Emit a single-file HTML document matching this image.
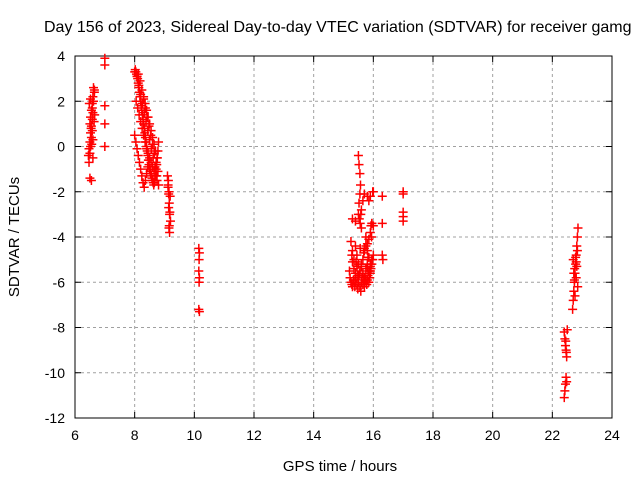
<!DOCTYPE html>
<html><head><meta charset="utf-8"><style>
html,body{margin:0;padding:0;background:#fff;}
svg{display:block;font-family:"Liberation Sans",sans-serif;}
</style></head><body>
<svg id="chart" width="640" height="480">
<text x="44" y="32" font-size="16" text-anchor="start">Day 156 of 2023, Sidereal Day-to-day VTEC variation (SDTVAR) for receiver gamg</text>
<text x="340" y="471" font-size="15" text-anchor="middle">GPS time / hours</text>
<text transform="translate(19,237) rotate(-90)" font-size="15" text-anchor="middle">SDTVAR / TECUs</text>
<g id="grid"></g><g id="axes"></g><g id="points"></g>
</svg>
<script>
const xTicks=[6,8,10,12,14,16,18,20,22,24];
const yTicks=[4,2,0,-2,-4,-6,-8,-10,-12];
const times=[6.45,6.47,6.5,6.52,6.55,6.58,6.6,6.62,6.65,6.5,6.52,6.55,6.58,6.6,6.62,6.65,6.47,6.5,6.52,6.55,6.58,6.6,6.48,6.52,6.55,6.5,6.56,6.6,6.64,6.66,6.54,6.58,
7,7,7,7,7,
8,8.02,8.04,8.06,8.08,8.1,8.12,8.14,8.16,8.18,8.2,8.22,8.24,8.26,8.28,8.3,8.32,8.34,8.36,8.38,8.4,8.42,8.44,8.46,8.48,8.5,8.52,8.54,8.56,8.58,8.6,8.62,8.64,8.66,8.68,8.7,8.72,8.74,8.76,8.78,8.8,
8.05,8.1,8.15,8.2,8.25,8.3,8.35,8.4,8.45,8.5,8.55,8.6,8.65,8.7,8.75,8.8,
8,8.04,8.08,8.12,8.16,8.2,8.24,8.28,8.32,8.36,8.4,8.44,8.48,
8.3,8.35,8.4,8.45,8.5,8.55,8.6,8.65,8.7,8.75,
8.12,8.18,8.24,8.3,8.36,8.42,8.48,8.54,8.6,8.66,8.72,8.78,
8.08,8.14,8.2,8.26,8.32,8.38,8.44,8.5,8.56,8.62,8.68,8.74,
9.1,9.12,9.14,9.16,9.18,9.2,9.15,9.17,9.19,9.13,9.15,9.17,9.12,9.14,9.16,
10.15,10.17,10.15,10.17,10.16,10.15,10.17,10.16,
15.2,15.22,15.25,15.28,15.3,15.33,15.35,15.38,15.4,15.42,15.45,15.48,15.5,15.52,15.55,15.58,15.6,15.62,15.65,15.68,15.7,15.72,15.75,15.78,15.8,15.82,15.85,15.88,15.9,15.92,15.95,15.98,16,
15.25,15.3,15.35,15.4,15.45,15.5,15.55,15.6,15.65,15.7,15.75,15.8,15.85,15.9,15.95,
15.3,15.35,15.4,15.45,15.5,15.55,15.6,15.65,15.7,15.75,15.8,15.85,15.9,
15.28,15.34,15.42,15.48,15.56,15.62,15.68,15.74,15.82,15.88,15.94,
15.5,15.52,15.55,15.57,15.55,15.52,15.5,15.53,15.56,15.58,15.6,15.65,15.7,15.75,15.8,15.85,15.9,15.92,15.95,15.98,16,
15.8,15.85,15.9,15.95,16,15.3,15.4,15.6,15.7,15.8,15.9,
16.3,16.3,16.32,16.3,17,17,17,17,17,
22.4,22.42,22.44,22.46,22.48,22.5,22.4,22.42,22.44,22.46,22.48,22.45,22.47,
22.68,22.7,22.72,22.74,22.76,22.78,22.8,22.82,22.84,22.86,22.7,22.75,22.8,22.85,22.72,22.78,22.82,22.74,22.8,22.76,22.84];
const values=[-0.4,-0.1,0.2,0.6,0.9,1.2,1.5,2,2.5,1,1.3,1.6,1.9,2.2,2.6,2.4,-0.7,-0.3,0,0.4,0.7,-0.5,1.9,2.1,-1.5,-1.4,0.1,0.3,1.1,1.4,0.8,1.7,
3.9,3.6,1.8,1,0,
3.3,3.4,3.3,3.2,3.1,3,2.8,2.6,2.4,2.2,2,1.8,1.6,1.4,1.2,1,0.8,0.6,0.4,0.2,0,-0.2,-0.4,-0.6,-0.8,-1,-1.1,-1.2,-1.3,-1.4,-1.5,-1.6,-1.7,-1.6,-1.5,-1.3,-1,-0.8,-0.5,-0.2,0.2,
2,1.7,1.4,1.1,0.8,0.5,0.2,-0.1,-0.3,-0.5,-0.7,-0.9,-1.1,-1.3,-1.5,-1.7,
0.5,0.2,-0.1,-0.4,-0.7,-1,-1.3,-1.6,-1.8,-1.5,-1.2,-0.9,-0.6,
2.2,1.9,1.6,1.3,1,0.7,0.4,0.1,-0.2,-0.5,
3.2,2.9,2.5,2.1,1.7,1.3,0.9,0.5,0.1,-0.3,-0.7,-1.1,
3.1,2.7,2.3,1.9,1.5,1.1,0.7,0.3,-0.1,-0.5,-0.9,-1.3,
-1.3,-1.7,-2.1,-2.5,-2.9,-3.3,-3.6,-3.8,-2.2,-1.5,-2,-3,-1.8,-2.7,-3.5,
-4.5,-4.7,-5.5,-5.8,-6,-7.2,-7.3,-5,
-5.5,-5.8,-6,-6.1,-6.2,-5.9,-6,-6.2,-6,-5.8,-6.1,-6.3,-6,-5.7,-6.2,-6.4,-6,-5.8,-6.1,-5.9,-6.2,-6,-5.8,-6.1,-5.9,-5.7,-6,-5.5,-5.6,-5.4,-5.2,-5,-4.8,
-4.2,-4.6,-5,-4.4,-4.8,-5.2,-5.6,-5.3,-5.0,-4.6,-4.4,-4.6,-4.9,-5.2,-5.0,
-5.1,-5.4,-5.6,-5.3,-5.7,-5.5,-5.2,-5.6,-5.8,-5.4,-5.2,-5.5,-5.3,
-4.8,-5.9,-5.1,-5.7,-4.5,-5.8,-4.7,-5.9,-4.9,-5.8,-4.0,
-0.4,-0.8,-1.2,-1.7,-2.1,-2.5,-3,-3.2,-3.4,-3,-2.8,-2.4,-2.1,-4,-4.3,-4.1,-3.8,-3.5,-3.4,-2,-2,
-2.2,-2.4,-2.2,-3.4,-3.5,-3.2,-3.3,-3.6,-4.5,-5.3,-5.5,
-2.2,-4.8,-5,-3.4,-2,-2.1,-2.9,-3.1,-3.3,
-8.2,-8.5,-8.8,-9,-9.3,-8.1,-11.1,-10.8,-10.5,-10.2,-10.4,-8.6,-9.1,
-7.2,-6.8,-6.4,-6,-5.6,-5.2,-4.8,-4.4,-4,-3.6,-5,-5.4,-5.8,-6.2,-5.6,-4.9,-5.3,-5.9,-5.1,-6.6,-4.6];
const NS='http://www.w3.org/2000/svg';
const L=75,R=612,T=56,B=418;
function xs(h){return L+(h-6)/(24-6)*(R-L);}
function ys(v){return T+(4-v)/(4+12)*(B-T);}
function mk(tag,at,parent){const e=document.createElementNS(NS,tag);for(const k in at)e.setAttribute(k,at[k]);parent.appendChild(e);return e;}
const grid=document.getElementById('grid'),axes=document.getElementById('axes'),pts=document.getElementById('points');
xTicks.forEach(t=>{const x=xs(t);
 if(t>6&&t<24){const g=mk('line',{x1:x,x2:x,y1:T,y2:B,stroke:'#a0a0a0','stroke-dasharray':'3,3'},grid);
 
 }
 mk('line',{x1:x,x2:x,y1:B,y2:B-6,stroke:'#000'},axes);
 mk('line',{x1:x,x2:x,y1:T,y2:T+6,stroke:'#000'},axes);
 const tx=mk('text',{x:x,y:B+22,'font-size':14,'text-anchor':'middle'},axes);tx.textContent=t;
 
 
});
yTicks.forEach(t=>{const y=ys(t);
 if(t<4&&t>-12){const g=mk('line',{x1:L,x2:R,y1:y,y2:y,stroke:'#a0a0a0','stroke-dasharray':'3,3'},grid);
 
 }
 mk('line',{x1:L,x2:L+6,y1:y,y2:y,stroke:'#000'},axes);
 mk('line',{x1:R,x2:R-6,y1:y,y2:y,stroke:'#000'},axes);
 const tx=mk('text',{x:L-10,y:y+5,'font-size':14,'text-anchor':'end'},axes);tx.textContent=t;
 
 
});
const frame=mk('rect',{x:L,y:T,width:R-L,height:B-T,fill:'none',stroke:'#000'},axes);


for(let i=0;i<times.length;i++){const x=xs(times[i]),y=ys(values[i]);
 const p=mk('path',{d:`M${x-4.5},${y}H${x+4.5}M${x},${y-4.5}V${y+4.5}`,stroke:'#f00','stroke-width':1.5,fill:'none'},pts);
 
 
}
</script>
</body></html>
